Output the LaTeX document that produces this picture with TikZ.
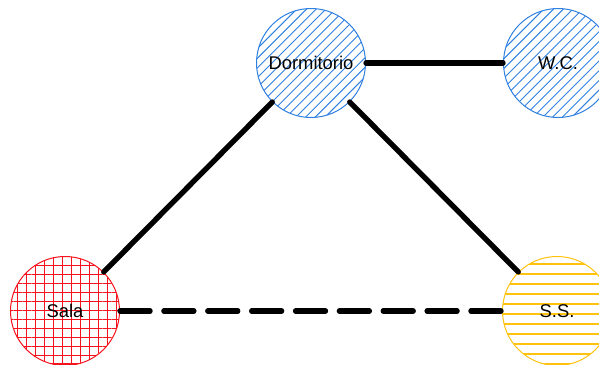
\documentclass[tikz,border=0pt]{standalone}
\usepackage{fontspec}
\setmainfont{Liberation Sans}
\usetikzlibrary{patterns.meta}
\definecolor{roomblue}{HTML}{2F80E0}
\definecolor{roomred}{HTML}{F5141E}
\definecolor{roomyellow}{HTML}{FFC20E}
\definecolor{ink}{HTML}{000000}
\tikzset{
  % ---- rooms ------------------------------------------------------
  room/.style      = {circle, line width=.75pt, inner sep=0pt,
                      minimum size=81.75pt, font=\fontsize{13.8}{16}\selectfont,
                      text=ink},
  privada/.style   = {room, draw=roomblue,
                      path picture={
                        \foreach \k in {-10,...,10}
                          \draw[roomblue, line width=.7pt]
                            ([shift={(\k*7.3pt-50pt,-50pt)}]path picture bounding box.center) --
                            ([shift={(\k*7.3pt+50pt,50pt)}]path picture bounding box.center);}},
  social/.style    = {room, draw=roomred,
                      pattern={Hatch[angle=0,distance=6.7pt,line width=.8pt]},
                      pattern color=roomred},
  servicio/.style  = {room, draw=roomyellow,
                      pattern={Lines[angle=0,distance=7.5pt,line width=.8pt]},
                      pattern color=roomyellow},
  % ---- links ------------------------------------------------------
  directo/.style   = {draw=ink, line width=4pt, line cap=round},
  indirecto/.style = {directo, dash pattern=on 22.5pt off 10.4pt},
}

\begin{document}
\begin{tikzpicture}[x=0.75pt,y=-0.75pt]
  \clip (0,0) rectangle (599,364);
  \useasboundingbox (0,0) rectangle (599,364);
  \node[privada] (dorm) at (311,63) {Dormitorio};
  \node[privada] (wc) at (558,63) {W.C.};
  \node[social] (sala) at (65,311) {Sala};
  \node[servicio] (ss) at (557,311) {S.S.};
  \draw[directo] (dorm) -- (wc);
  \draw[directo] (dorm) -- (sala);
  \draw[directo] (dorm) -- (ss);
  \draw[indirecto] (sala) -- (ss);
\end{tikzpicture}
\end{document}
